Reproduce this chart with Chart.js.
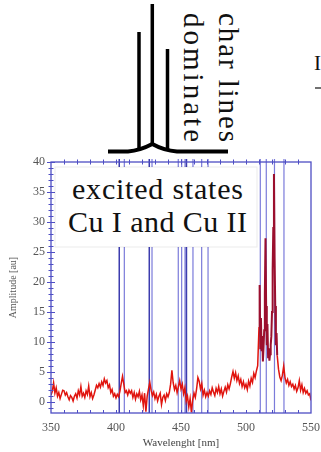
<!DOCTYPE html>
<html>
<head>
<meta charset="utf-8">
<script src="https://cdn.jsdelivr.net/npm/chart.js@4.4.1/dist/chart.umd.min.js"></script>
<style>
  html, body { margin:0; padding:0; background:#fff; }
  body { width:321px; height:452px; position:relative; overflow:hidden; font-family:"Liberation Serif", serif; }
  #chart { position:absolute; left:0; top:0; }
  #sketch, #note { position:absolute; left:0; top:0; }
</style>
</head>
<body>

<!-- line-profile sketch above the spectrum -->
<svg id="sketch" width="321" height="160" font-family="Liberation Serif, serif">
  <path d="M108 151.5 L128 151.5 Q140 150.5 152.3 144 Q164 150.5 177 151.5 L228 151.5" fill="none" stroke="#000" stroke-width="4"/>
  <line x1="139" y1="32" x2="139" y2="150" stroke="#000" stroke-width="3.5"/>
  <line x1="152.3" y1="4" x2="152.3" y2="146" stroke="#000" stroke-width="3.5"/>
  <line x1="167.5" y1="49" x2="167.5" y2="150" stroke="#000" stroke-width="3.5"/>
  <text transform="translate(218.5,13) rotate(90)" font-size="29" fill="#111" textLength="129" lengthAdjust="spacing">char lines</text>
  <text transform="translate(184,13) rotate(90)" font-size="29" fill="#111" textLength="129" lengthAdjust="spacing">dominate</text>
  <text x="314" y="70" font-size="21" fill="#111">I</text>
  <line x1="315" y1="88" x2="321" y2="88" stroke="#111" stroke-width="1.2"/>
</svg>

<canvas id="chart" width="321" height="452"></canvas>

<!-- white label box laid over the line markers -->
<svg id="note" width="321" height="260" font-family="Liberation Serif, serif">
  <rect x="55" y="167" width="202" height="80" fill="#fff" stroke="rgba(0,0,0,0.08)" stroke-width="1"/>
  <text x="72" y="198.5" font-size="30" fill="#111" textLength="171" lengthAdjust="spacing">excited states</text>
  <text x="68" y="232" font-size="30" fill="#111" textLength="179" lengthAdjust="spacing">Cu I and Cu II</text>
</svg>

<script>
// emission spectrum, amplitude in a.u.
const wavelength = [
  350,351,352,353,354,355,356,357,358,359,360,361,362,363,364,365,366,367,368,369,
  370,371,372,373,374,375,376,377,378,379,380,381,382,383,384,385,386,387,388,389,
  390,391,392,393,394,395,396,397,398,399,400,401,402,403,404,405,406,407,408,409,
  410,411,412,413,414,415,416,417,418,419,420,421,422,423,424,425,426,427,428,429,
  430,431,432,433,434,435,436,437,438,439,440,441,442,443,444,445,446,447,448,449,
  450,451,452,453,454,455,456,457,458,459,460,461,462,463,464,465,466,467,468,469,
  470,471,472,473,474,475,476,477,478,479,480,481,482,483,484,485,486,487,488,489,
  490,491,492,493,494,495,496,497,498,499,500,501,502,503,504,505,506,507,508,509,
  510,510.5,511,511.5,512,512.5,513,513.5,514,514.5,515,515.5,516,516.5,517,517.5,
  518,518.5,519,519.5,520,520.5,521,521.5,522,522.5,523,523.5,
  524,525,526,527,528,529,530,531,532,533,534,535,536,537,538,539,
  540,541,542,543,544,545,546,547,548,549,550
];
const amplitude = [
  1.2,1.8,3.2,1.5,2.4,1.0,1.6,0.6,1.3,2.0,1.9,1.2,1.6,0.9,0.4,1.1,0.8,0.2,1.0,1.4,
  0.7,1.9,1.2,2.6,1.0,1.5,0.8,1.9,1.3,2.7,0.9,1.6,0.6,1.2,2.0,2.8,2.4,3.1,2.5,3.4,
  2.8,3.9,3.2,3.6,2.4,2.9,1.6,2.1,1.0,1.4,0.7,1.3,0.9,1.8,3.1,4.3,3.0,1.6,1.9,1.2,
  2.0,1.5,1.9,0.8,1.6,0.5,1.4,0.9,1.8,0.4,1.2,-0.6,1.5,-1.6,1.0,2.2,3.3,2.0,1.1,1.7,
  0.6,1.3,0.2,1.0,1.5,-0.4,0.8,1.2,0.3,1.4,0.9,1.6,3.0,5.3,3.2,2.1,2.8,1.6,2.6,3.6,
  2.2,3.0,1.4,2.4,0.2,1.0,-0.8,0.6,-1.7,0.4,1.5,0.8,2.2,4.1,3.5,2.2,3.1,1.2,2.0,0.9,
  1.6,1.0,1.9,1.3,2.4,1.7,1.1,2.3,1.6,2.6,1.4,2.2,1.0,1.8,2.5,1.7,2.9,2.2,3.1,4.2,
  5.1,4.0,4.9,3.6,4.4,3.1,3.8,2.6,3.4,2.4,3.0,2.1,3.5,2.7,4.0,3.3,4.8,4.1,5.2,6.1,
  12.5,19.5,9.0,14.0,8.5,11.0,6.8,9.2,12.0,18.0,27.3,16.0,9.5,13.0,7.5,9.0,
  6.9,8.0,9.5,11.0,15.0,22.0,29.0,38.0,24.0,16.0,9.5,11.5,
  7.8,5.5,4.2,3.6,4.5,6.0,4.1,3.2,3.8,2.8,3.4,2.6,3.0,2.2,2.8,1.8,
  2.4,3.6,2.0,2.9,1.6,2.3,1.5,1.9,1.2,1.4,0.3
];

// tabulated Cu I / Cu II line positions [nm]
const cuLinesWeak = [406.4, 427.7, 447.9, 450.5, 453.1, 459.2, 465.9, 470.8, 511.0, 515.6, 521.9, 529.2];
const cuLinesStrong = [402.5, 425.6, 454.2];

const xTicks = [350, 400, 450, 500, 550];
const yTicks = [0, 5, 10, 15, 20, 25, 30, 35, 40];
const xRange = [350, 550];
const yRange = [-1.8, 40];

const axisBlue = 'rgb(78,78,196)';
const tickFont = { family: 'Liberation Serif', size: 12 };

// each line: bottom -> top, then a null to break the path
const toSticks = list => list.flatMap(w => [{ x: w, y: yRange[0] }, { x: w, y: yRange[1] + 0.5 }, { x: w, y: null }]);

// peak region gets the darker, heavier stroke
const inPeak = c => c.p0.parsed.y > 6.5 && c.p1.parsed.y > 6.5;

// box frame plus the small tick marks on all sides
const axisFrame = {
  id: 'axisFrame',
  afterDatasetsDraw(chart) {
    const { ctx, chartArea: { left, right, top, bottom }, scales: { x, y } } = chart;
    ctx.save();
    ctx.strokeStyle = axisBlue;
    ctx.lineWidth = 1.3;
    ctx.strokeRect(left, top, right - left, bottom - top);
    ctx.lineWidth = 1;
    ctx.beginPath();
    for (let v = Math.ceil(y.min); v <= y.max; v++) {
      const py = Math.round(y.getPixelForValue(v)) + 0.5;
      const len = v % 5 === 0 ? 4 : 2.5;
      ctx.moveTo(left - len, py); ctx.lineTo(left + len, py);
    }
    for (let w = x.min + 10; w < x.max; w += 10) {
      const px = Math.round(x.getPixelForValue(w)) + 0.5;
      ctx.moveTo(px, bottom); ctx.lineTo(px, bottom - 3);
      ctx.moveTo(px, top - 2.5); ctx.lineTo(px, top + 2.5);
    }
    ctx.stroke();
    ctx.restore();
  }
};

new Chart(document.getElementById('chart'), {
  type: 'line',
  data: {
    datasets: [
      {
        data: wavelength.map((w, i) => ({ x: w, y: amplitude[i] })),
        borderColor: '#e0140e',
        borderWidth: 1.5,
        pointRadius: 0,
        tension: 0,
        segment: {
          borderColor: c => inPeak(c) ? '#9b0f2e' : undefined,
          borderWidth: c => inPeak(c) ? 2 : undefined
        }
      },
      {
        data: toSticks(cuLinesStrong),
        borderColor: 'rgba(50,50,170,0.95)',
        borderWidth: 1.5,
        pointRadius: 0,
        spanGaps: false,
        clip: 4
      },
      {
        data: toSticks(cuLinesWeak),
        borderColor: 'rgba(100,100,212,0.85)',
        borderWidth: 1.2,
        pointRadius: 0,
        spanGaps: false,
        clip: 4
      }
    ]
  },
  options: {
    responsive: false,
    animation: false,
    events: [],
    layout: { padding: { top: 162, right: 10, left: 0, bottom: 0 } },
    plugins: { legend: { display: false }, tooltip: { enabled: false } },
    scales: {
      x: {
        type: 'linear',
        min: xRange[0], max: xRange[1],
        afterBuildTicks: s => { s.ticks = xTicks.map(v => ({ value: v })); },
        // end labels may hang over the frame edges
        afterFit: s => { s.height = 39; s.paddingLeft = 0; s.paddingRight = 0; },
        grid: { display: false, drawTicks: false },
        border: { display: false },
        ticks: { color: '#555', font: tickFont, padding: 8, maxRotation: 0 },
        title: { display: true, text: 'Wavelenght [nm]', color: '#444', font: { family: 'Liberation Serif', size: 11 }, padding: { bottom: 2 } }
      },
      y: {
        type: 'linear',
        min: yRange[0], max: yRange[1],
        afterBuildTicks: s => { s.ticks = yTicks.map(v => ({ value: v })); },
        afterFit: s => { s.width = 51; s.paddingTop = 0; s.paddingBottom = 0; },
        grid: { display: false, drawTicks: false },
        border: { display: false },
        ticks: { color: '#555', font: tickFont, padding: 6 },
        title: { display: true, text: 'Amplitude [au]', color: '#555', font: { family: 'Liberation Serif', size: 10 }, padding: { top: 7 } }
      }
    }
  },
  plugins: [axisFrame]
});
</script>
</body>
</html>
